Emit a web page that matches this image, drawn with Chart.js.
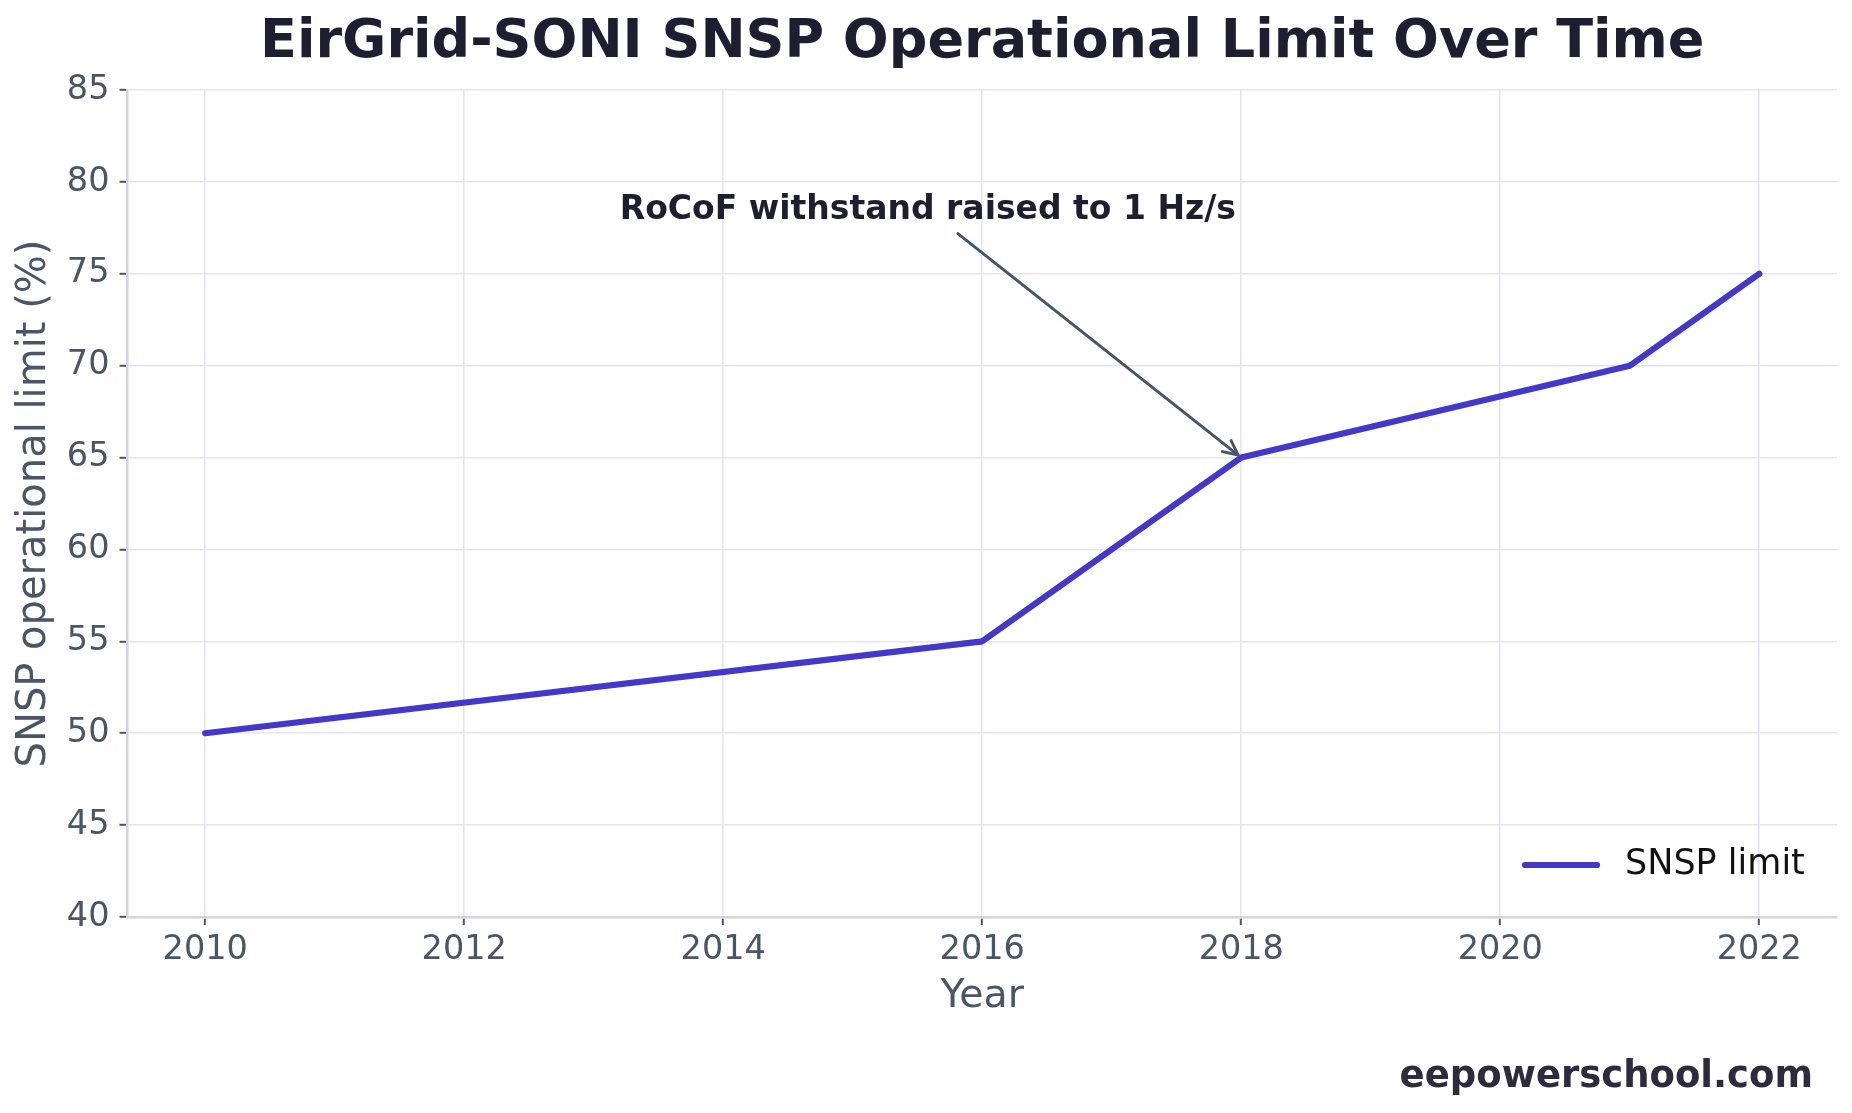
<!DOCTYPE html>
<html><head><meta charset="utf-8">
<script src="https://cdn.jsdelivr.net/npm/chart.js@4.4.1/dist/chart.umd.min.js"></script>
<style>html,body{margin:0;padding:0;background:#fff;} canvas{display:block;}</style>
</head><body>
<canvas id="c" width="1852" height="1113"></canvas>
<script>
// ---- data ----
const years = [2010, 2016, 2018, 2021, 2022];
const snspLimit = [50, 55, 65, 70, 75];
const xTickValues = [2010, 2012, 2014, 2016, 2018, 2020, 2022];
const yTickValues = [40, 45, 50, 55, 60, 65, 70, 75, 80, 85];
const seriesLabel = 'SNSP limit';
const chartTitle = 'EirGrid-SONI SNSP Operational Limit Over Time';
const xAxisTitle = 'Year';
const yAxisTitle = 'SNSP operational limit (%)';
const annotationText = 'RoCoF withstand raised to 1 Hz/s';
const annotationTextAt = [2015.58, 78.44];
const annotationPointAt = [2018, 65];
const watermarkText = 'eepowerschool.com';

// ---- styles ----
const FONT = "'DejaVu Sans', 'Liberation Sans', sans-serif";
const TICK_COLOR = '#4a5568';
const GRID_COLOR = '#e6e4ef';
const SPINE_COLOR = '#d5d2e6';
const LINE_COLOR = '#4338ca';
const DARK = '#1f1d30';

Chart.defaults.font.family = FONT;

const overlayPlugin = {
  id: 'overlay',
  afterDraw(chart) {
    const ctx = chart.ctx;
    const ca = chart.chartArea;
    const xs = chart.scales.x, ys = chart.scales.y;
    ctx.save();
    // title centered over plot area
    ctx.fillStyle = DARK;
    ctx.font = "bold 54px " + FONT;
    ctx.textAlign = 'center';
    ctx.textBaseline = 'middle';
    ctx.fillText(chartTitle, (ca.left + ca.right) / 2, 42.5);

    // annotation text
    const tx = xs.getPixelForValue(annotationTextAt[0]);
    const ty = ys.getPixelForValue(annotationTextAt[1]);
    ctx.font = "bold 33px " + FONT;
    ctx.fillStyle = DARK;
    ctx.fillText(annotationText, tx, ty);

    // arrow
    const px = xs.getPixelForValue(annotationPointAt[0]);
    const py = ys.getPixelForValue(annotationPointAt[1]);
    const sx = tx + 30, sy = ty + 23;
    const dx = px - sx, dy = py - sy;
    const len = Math.hypot(dx, dy);
    const ux = dx / len, uy = dy / len;
    const ex = px - ux * 4, ey = py - uy * 4;
    ctx.strokeStyle = '#475569';
    ctx.lineWidth = 3;
    ctx.lineCap = 'round';
    ctx.lineJoin = 'round';
    ctx.beginPath();
    ctx.moveTo(sx, sy);
    ctx.lineTo(ex, ey);
    ctx.stroke();
    const ang = Math.atan2(uy, ux);
    const hl = 16, ha = 0.45;
    ctx.beginPath();
    ctx.moveTo(ex - hl * Math.cos(ang - ha), ey - hl * Math.sin(ang - ha));
    ctx.lineTo(ex, ey);
    ctx.lineTo(ex - hl * Math.cos(ang + ha), ey - hl * Math.sin(ang + ha));
    ctx.stroke();

    // legend (bottom right inside plot)
    const ds = chart.data.datasets[0];
    const ly = ca.bottom - 52;
    const lx1 = ca.right - 312, lx2 = lx1 + 72;
    ctx.strokeStyle = ds.borderColor;
    ctx.lineWidth = ds.borderWidth;
    ctx.lineCap = 'round';
    ctx.beginPath();
    ctx.moveTo(lx1, ly);
    ctx.lineTo(lx2, ly);
    ctx.stroke();
    ctx.fillStyle = '#111111';
    ctx.font = "35px " + FONT;
    ctx.textAlign = 'left';
    ctx.fillText(ds.label, lx2 + 28, ly);

    // watermark
    ctx.fillStyle = '#2d2b3d';
    ctx.font = "bold 37px " + FONT;
    ctx.textAlign = 'right';
    ctx.fillText(watermarkText, 1813, 1077);
    ctx.restore();
  }
};

new Chart(document.getElementById('c'), {
  type: 'line',
  data: {
    datasets: [{
      label: seriesLabel,
      data: years.map((y, i) => ({x: y, y: snspLimit[i]})),
      borderColor: LINE_COLOR,
      backgroundColor: LINE_COLOR,
      borderWidth: 6.2,
      pointRadius: 0,
      pointHoverRadius: 0,
      tension: 0,
      fill: false,
      borderCapStyle: 'round',
      borderJoinStyle: 'round'
    }]
  },
  options: {
    responsive: false,
    animation: false,
    events: [],
    layout: { padding: { top: 90, right: 15, left: 0, bottom: 0 } },
    plugins: { legend: { display: false }, title: { display: false }, tooltip: { enabled: false } },
    scales: {
      x: {
        type: 'linear',
        min: 2009.4,
        max: 2022.6,
        afterBuildTicks: s => { s.ticks = xTickValues.map(v => ({ value: v })); },
        afterFit: s => { s.height = 196; },
        ticks: { font: { size: 33.5 }, color: TICK_COLOR, padding: 5, maxRotation: 0, autoSkip: false,
                 callback: v => String(v) },
        grid: { color: GRID_COLOR, lineWidth: 1.6, tickLength: 8, tickColor: TICK_COLOR, tickWidth: 2 },
        border: { color: SPINE_COLOR, width: 2.5 },
        title: { display: true, text: xAxisTitle, color: TICK_COLOR, font: { size: 39.5 }, padding: { top: 0, bottom: 93 } }
      },
      y: {
        min: 40,
        max: 85,
        afterBuildTicks: s => { s.ticks = yTickValues.map(v => ({ value: v })); },
        afterFit: s => { s.width = 127.5; },
        ticks: { font: { size: 33.5 }, color: TICK_COLOR, padding: 10, autoSkip: false,
                 callback: v => String(v) },
        grid: { color: GRID_COLOR, lineWidth: 1.6, tickLength: 8, tickColor: TICK_COLOR, tickWidth: 2 },
        border: { color: SPINE_COLOR, width: 2.5 },
        title: { display: true, text: yAxisTitle, color: TICK_COLOR, font: { size: 40 }, padding: { top: 11, bottom: 0 } }
      }
    }
  },
  plugins: [overlayPlugin]
});
</script>
</body></html>
